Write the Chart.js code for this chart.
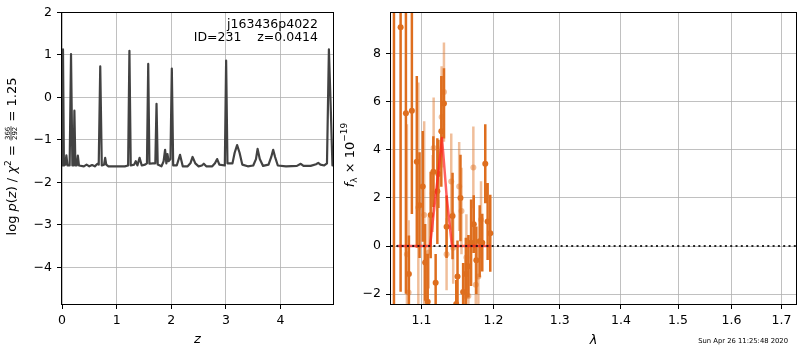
<!DOCTYPE html>
<html><head><meta charset="utf-8">
<script src="https://cdn.jsdelivr.net/npm/chart.js@4/dist/chart.umd.min.js"></script>
<style>
html,body{margin:0;padding:0;background:#fff;}
#wrap{position:relative;width:800px;height:350px;background:#fff;}
canvas{position:absolute;left:0;top:0;}
</style></head><body>
<div id="wrap"><canvas id="c1" width="800" height="350"></canvas><canvas id="c2" width="800" height="350"></canvas></div>
<script>
// ---------- Left panel: log p(z) ----------
const zGrid = [0.000,0.018,0.035,0.060,0.080,0.100,0.140,0.165,0.190,0.212,
  0.227,0.245,0.270,0.290,0.310,0.400,0.450,0.500,0.550,0.600,
  0.650,0.672,0.700,0.728,0.770,0.790,0.810,0.850,0.950,1.050,
  1.150,1.210,1.234,1.258,1.320,1.350,1.380,1.420,1.460,1.520,
  1.555,1.578,1.600,1.660,1.708,1.730,1.752,1.820,1.860,1.887,
  1.910,1.930,1.950,1.985,2.010,2.035,2.100,2.160,2.210,2.300,
  2.350,2.390,2.440,2.500,2.560,2.595,2.640,2.750,2.800,2.840,
  2.880,2.980,3.004,3.028,3.120,3.160,3.205,3.250,3.300,3.400,
  3.500,3.550,3.580,3.620,3.680,3.780,3.830,3.865,3.900,3.950,
  4.100,4.300,4.370,4.420,4.550,4.650,4.690,4.730,4.800,4.850,
  4.885,4.920,4.950];
const logPz = [-1.60,1.13,-1.60,-1.58,-1.36,-1.60,-1.60,1.02,-1.60,-1.60,
  -0.31,-1.60,-1.60,-1.37,-1.60,-1.62,-1.58,-1.62,-1.59,-1.62,
  -1.56,-1.58,0.73,-1.60,-1.58,-1.42,-1.58,-1.62,-1.62,-1.62,
  -1.62,-1.60,1.10,-1.60,-1.58,-1.50,-1.60,-1.42,-1.60,-1.58,
  -1.55,0.79,-1.56,-1.55,-1.55,-0.15,-1.58,-1.62,-1.50,-1.23,
  -1.55,-1.33,-1.50,-1.45,0.68,-1.60,-1.60,-1.35,-1.62,-1.62,
  -1.55,-1.40,-1.55,-1.62,-1.60,-1.56,-1.62,-1.62,-1.55,-1.45,
  -1.58,-1.60,0.87,-1.55,-1.55,-1.30,-1.12,-1.30,-1.58,-1.62,
  -1.60,-1.45,-1.21,-1.45,-1.61,-1.58,-1.40,-1.23,-1.40,-1.60,
  -1.62,-1.61,-1.56,-1.61,-1.61,-1.57,-1.54,-1.58,-1.60,-1.55,
  1.13,-0.30,-1.60];
const zTicks = [0,1,2,3,4];
const logPTicks = [-4,-3,-2,-1,0,1,2];

// ---------- Right panel: spectrum ----------
const lamDark = [1.0640,1.0726,1.0795,1.0834,1.0873,1.0938,1.0974,1.1017,1.1049,1.1083,
  1.1123,1.1159,1.1190,1.1213,1.1227,1.1267,1.1303,1.1339,1.1421,1.1472,
  1.1490,1.1531,1.1568,1.1606,1.1642,1.1680,1.1718,1.1754,1.1802,1.1839,
  1.1882,1.1916,1.1954];
const fluxDark = [10.5,9.10,5.52,-1.16,5.63,3.50,1.70,2.48,-0.68,-2.32,
  1.29,3.09,-1.53,2.28,3.00,4.77,5.93,0.80,1.25,-2.41,
  -1.27,2.00,-1.91,-1.16,-0.84,0.14,0.91,-0.59,0.20,0.14,
  3.42,1.02,0.53];
const errDark = [14.0,11.0,7.5,1.6,4.3,3.57,2.2,2.3,1.6,2.0,
  1.8,1.47,1.2,2.2,1.42,2.3,1.46,1.3,1.8,1.0,
  1.5,1.8,1.2,1.5,1.3,1.8,1.2,1.4,1.5,1.2,
  1.64,1.6,1.6];
const lamLight = [1.0808,1.0830,1.0958,1.1036,1.1097,1.1150,1.1163,1.1271,1.1303,1.1339,
  1.1403,1.1430,1.1513,1.1545,1.1600,1.1614,1.1642,1.1712,1.1746,1.1783,
  1.1821];
const fluxLight = [-0.34,-1.93,1.60,1.29,-0.27,2.18,4.08,5.37,6.40,-0.34,
  2.68,-0.07,2.48,1.46,-2.08,-0.48,-2.08,3.27,-1.61,-1.27,
  1.09];
const errLight = [5.4,3.0,5.2,3.9,1.5,1.6,2.1,2.1,2.06,1.5,
  2.0,1.5,1.85,1.8,1.5,1.8,1.2,1.7,1.3,1.5,
  1.6];
const lamModel = [1.0679,1.0900,1.1115,1.1185,1.1227,1.1276,1.1298,1.1339,1.1413,1.1600,1.1800,1.1959];
const fluxModel = [0,0,0,1.97,3.07,4.49,3.67,2.10,0,0,0,0];
const zeroLam = [1.0602,1.730];
const zeroFlux = [0,0];
const lamTicks = [1.1,1.2,1.3,1.4,1.5,1.6,1.7];
const fluxTicks = [-2,0,2,4,6,8];

// ---------- styling ----------
const FAM = "'DejaVu Sans', sans-serif";
Chart.defaults.font.family = FAM;
Chart.defaults.font.size = 12.5;
Chart.defaults.color = '#000';

const grid = {color:'#b0b0b0', lineWidth:0.8, tickColor:'#000', tickLength:5, tickWidth:1};
const fmtNum = v => (v < 0 ? '\u2212' + Math.abs(v) : String(v));
const setTicks = arr => (s => { s.ticks = arr.map(v => ({value:v})); });

const frame = {id:'frame', afterDatasetsDraw(c){
  const {ctx, chartArea:a} = c;
  const L = Math.round(a.left), T = Math.round(a.top), R = Math.round(a.right), B = Math.round(a.bottom);
  ctx.save(); ctx.strokeStyle='#000'; ctx.lineWidth=1;
  ctx.strokeRect(L-0.5, T-0.5, R-L+1, B-T+1);
  ctx.restore();
}};

function drawVerticalRich(ctx, cx, cy, segs){
  ctx.save();
  ctx.translate(cx, cy);
  ctx.rotate(-Math.PI/2);
  ctx.fillStyle='#000'; ctx.strokeStyle='#000';
  ctx.textBaseline='alphabetic'; ctx.textAlign='left';
  const widths = segs.map(s => {
    ctx.font = s.font;
    if (s.frac) return Math.max(ctx.measureText(s.frac[0]).width, ctx.measureText(s.frac[1]).width) + 2;
    return ctx.measureText(s.t).width;
  });
  const total = widths.reduce((a,b)=>a+b,0);
  let x = -total/2;
  segs.forEach((s,i) => {
    ctx.font = s.font;
    if (s.frac){
      const w = widths[i];
      const wn = ctx.measureText(s.frac[0]).width, wd = ctx.measureText(s.frac[1]).width;
      ctx.fillText(s.frac[0], x+(w-wn)/2, s.numY);
      ctx.fillText(s.frac[1], x+(w-wd)/2, s.denY);
      ctx.lineWidth = 0.7; ctx.beginPath(); ctx.moveTo(x+0.5, s.barY); ctx.lineTo(x+w-0.5, s.barY); ctx.stroke();
    } else {
      ctx.fillText(s.t, x, s.dy || 0);
    }
    x += widths[i];
  });
  ctx.restore();
}

const leftText = {id:'leftText', afterDraw(c){
  const ctx = c.ctx;
  const N = "13px " + FAM, I = "italic 13px " + FAM, S = "9px " + FAM, Fr = "7px " + FAM;
  drawVerticalRich(ctx, 15.5, 156.5, [
    {t:'log ', font:N}, {t:'p', font:I}, {t:'(', font:N}, {t:'z', font:I}, {t:') / ', font:N},
    {t:'\u03c7', font:I}, {t:'2', font:S, dy:-5}, {t:' = ', font:N},
    {frac:['366','292'], font:Fr, numY:-6, denY:1.5, barY:-4.5},
    {t:' = 1.25', font:N}
  ]);
  ctx.save();
  ctx.font = "12.5px " + FAM; ctx.fillStyle='#000'; ctx.textAlign='right'; ctx.textBaseline='alphabetic';
  ctx.fillText('j163436p4022', 318, 28);
  ctx.fillText('ID=231    z=0.0414', 318, 41);
  ctx.restore();
}};

const rightText = {id:'rightText', afterDraw(c){
  const ctx = c.ctx;
  const N = "13px " + FAM, I = "italic 13px " + FAM, S = "9px " + FAM;
  drawVerticalRich(ctx, 353.5, 155, [
    {t:'f', font:I}, {t:'\u03bb', font:S, dy:3}, {t:' \u00d7 10', font:N}, {t:'\u221219', font:S, dy:-7}
  ]);
  ctx.save();
  ctx.font = "6.8px " + FAM; ctx.fillStyle='#000'; ctx.textAlign='right'; ctx.textBaseline='alphabetic';
  ctx.fillText('Sun Apr 26 11:25:48 2020', 788, 342.5);
  ctx.restore();
}};

// ---------- Left chart ----------
new Chart(document.getElementById('c1'), {
  type:'line',
  data:{datasets:[{
    data: zGrid.map((z,i)=>({x:z, y:logPz[i]})),
    borderColor:'#424242', borderWidth:2.2, borderJoinStyle:'round', borderCapStyle:'round',
    pointRadius:0, tension:0, fill:false
  }]},
  options:{
    responsive:false, animation:false, events:[],
    layout:{padding:{left:0, top:7, right:467, bottom:0}},
    plugins:{legend:{display:false}, tooltip:{enabled:false}},
    scales:{
      x:{type:'linear', min:0, max:4.96, afterBuildTicks:setTicks(zTicks), afterFit:s=>{s.height=46;},
         grid:grid, border:{display:false},
         ticks:{padding:4, maxRotation:0, autoSkip:false, callback:fmtNum},
         title:{display:true, text:'z', font:{style:'italic', size:13}, padding:{top:0, bottom:3}}},
      y:{type:'linear', min:-4.86, max:2, afterBuildTicks:setTicks(logPTicks), afterFit:s=>{s.width=62;},
         grid:grid, border:{display:false},
         ticks:{padding:5, autoSkip:false, callback:fmtNum}}
    }
  },
  plugins:[frame, leftText]
});

// ---------- Right chart ----------
function errSegs(lam, f, e){
  const out = [];
  lam.forEach((l,i) => { out.push({x:l, y:f[i]-e[i]}, {x:l, y:f[i]+e[i]}, {x:l, y:null}); });
  return out;
}
const DARK = 'rgb(222,110,30)';
const LIGHT = 'rgba(222,110,30,0.45)';

new Chart(document.getElementById('c2'), {
  type:'line',
  data:{datasets:[
    {data: zeroLam.map((l,i)=>({x:l, y:zeroFlux[i]})), borderColor:'rgba(20,20,20,0.9)', borderWidth:2, borderDash:[2,3.3], pointRadius:0, order:0},
    {data: lamModel.map((l,i)=>({x:l, y:fluxModel[i]})), borderColor:'rgba(255,30,30,0.7)', borderWidth:2.5, borderJoinStyle:'round', pointRadius:0, tension:0, order:1},
    {data: lamDark.map((l,i)=>({x:l, y:fluxDark[i]})), showLine:false, pointRadius:3, pointBorderWidth:0, pointBackgroundColor:DARK, order:2},
    {data: errSegs(lamDark, fluxDark, errDark), borderColor:DARK, borderWidth:2.5, pointRadius:0, spanGaps:false, order:3},
    {data: lamLight.map((l,i)=>({x:l, y:fluxLight[i]})), showLine:false, pointRadius:3, pointBorderWidth:0, pointBackgroundColor:LIGHT, order:4},
    {data: errSegs(lamLight, fluxLight, errLight), borderColor:LIGHT, borderWidth:2.5, pointRadius:0, spanGaps:false, order:5}
  ]},
  options:{
    responsive:false, animation:false, events:[],
    layout:{padding:{left:340, top:7, right:1, bottom:0}},
    plugins:{legend:{display:false}, tooltip:{enabled:false}},
    scales:{
      x:{type:'logarithmic', min:1.0602, max:1.730, afterBuildTicks:setTicks(lamTicks), afterFit:s=>{s.height=46;},
         grid:grid, border:{display:false},
         ticks:{padding:4, maxRotation:0, autoSkip:false, callback:v=>Number(v).toFixed(1)},
         title:{display:true, text:'\u03bb', font:{style:'italic', size:13}, padding:{top:0, bottom:2}}},
      y:{type:'linear', min:-2.41, max:9.71, afterBuildTicks:setTicks(fluxTicks), afterFit:s=>{s.width=51;},
         grid:grid, border:{display:false},
         ticks:{padding:5, autoSkip:false, callback:fmtNum}}
    }
  },
  plugins:[frame, rightText]
});
</script>
</body></html>
